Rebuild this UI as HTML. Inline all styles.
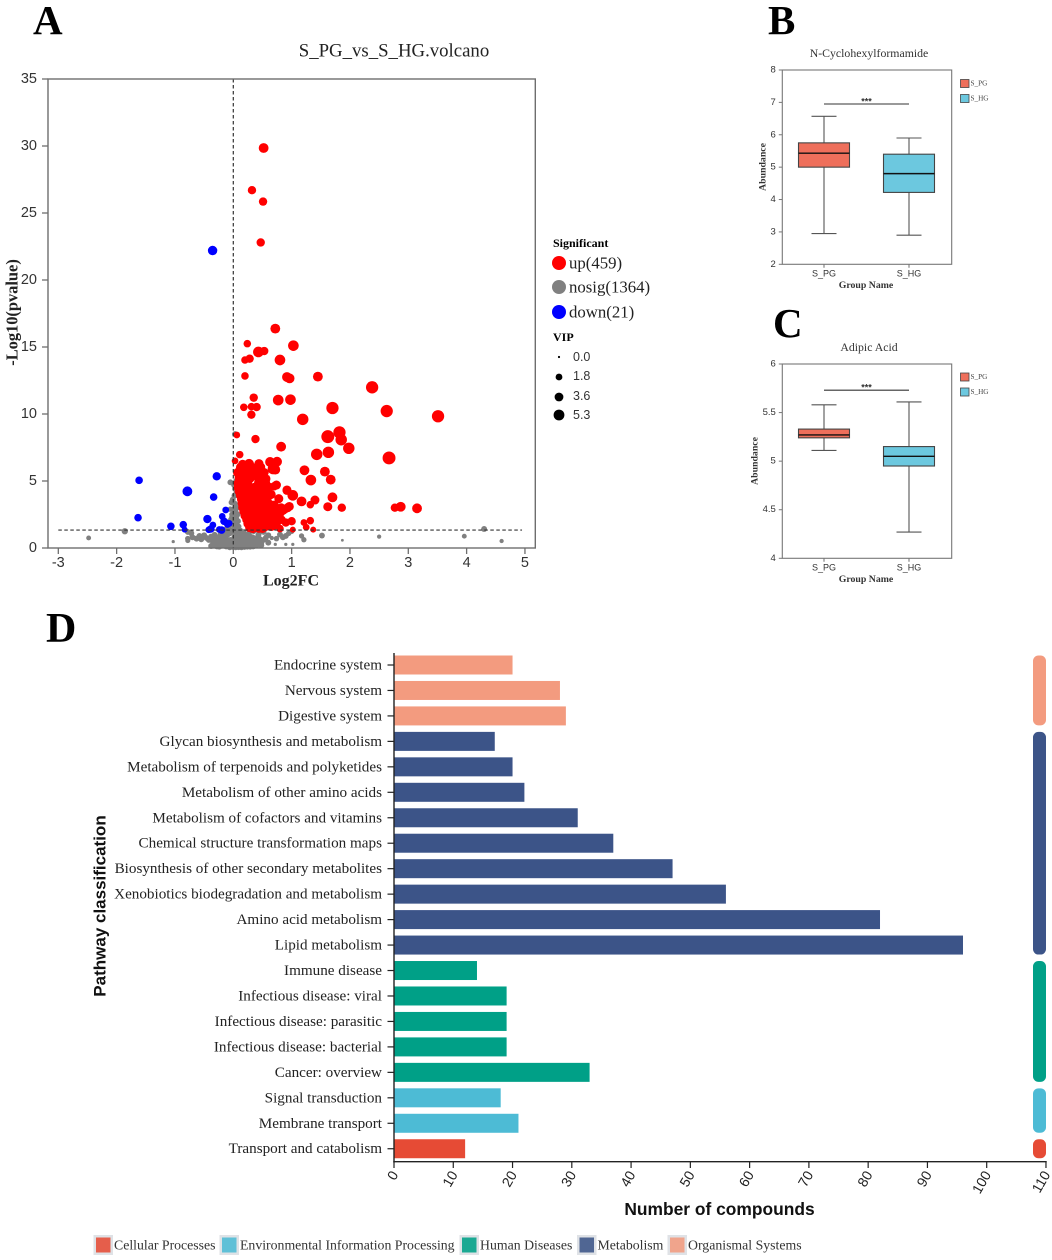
<!DOCTYPE html>
<html lang="en">
<head>
<meta charset="utf-8">
<title>Metabolomics figure</title>
<style>
html,body{margin:0;padding:0;background:#fff}
svg{display:block}
.serif{font-family:"Liberation Serif",serif}
.sans{font-family:"Liberation Sans",sans-serif}
text{dominant-baseline:central}
</style>
</head>
<body>
<svg id="fig" xmlns="http://www.w3.org/2000/svg" width="1052" height="1260" viewBox="0 0 1052 1260">
  <rect width="1052" height="1260" fill="#fff"/>
  <text class="serif" x="33" y="20" font-size="41" font-weight="bold">A</text>
  <text class="serif" x="768" y="20" font-size="41" font-weight="bold">B</text>
  <text class="serif" x="773" y="323" font-size="41" font-weight="bold">C</text>
  <text class="serif" x="46" y="629" font-size="42" font-weight="bold">D</text>

  <text class="serif" x="394" y="51" font-size="18.8" text-anchor="middle" fill="#222">S_PG_vs_S_HG.volcano</text>
  <text class="serif" x="291" y="581" font-size="16" font-weight="bold" text-anchor="middle" fill="#222">Log2FC</text>
  <text class="serif" transform="translate(12 312.5) rotate(-90)" font-size="16.4" font-weight="bold" text-anchor="middle" fill="#222">-Log10(pvalue)</text>

  <g>
    <text class="serif" x="553" y="243" font-size="12" font-weight="bold">Significant</text>
    <circle cx="559" cy="263" r="7" fill="#f00"/>
    <text class="serif" x="569" y="263" font-size="16.8" fill="#222">up(459)</text>
    <circle cx="559" cy="287" r="7" fill="#808080"/>
    <text class="serif" x="569" y="287" font-size="16.8" fill="#222">nosig(1364)</text>
    <circle cx="559" cy="312" r="7" fill="#00f"/>
    <text class="serif" x="569" y="312" font-size="16.8" fill="#222">down(21)</text>
    <text class="serif" x="553" y="337" font-size="12" font-weight="bold">VIP</text>
    <circle cx="559" cy="357" r="1.1" fill="#000"/>
    <text class="sans" x="573" y="357" font-size="12.5" fill="#333">0.0</text>
    <circle cx="559" cy="377" r="3.4" fill="#000"/>
    <text class="sans" x="573" y="376" font-size="12.5" fill="#333">1.8</text>
    <circle cx="559" cy="397" r="4.4" fill="#000"/>
    <text class="sans" x="573" y="396" font-size="12.5" fill="#333">3.6</text>
    <circle cx="559" cy="415" r="5.4" fill="#000"/>
    <text class="sans" x="573" y="415" font-size="12.5" fill="#333">5.3</text>
  </g>

  <text class="sans" x="719.5" y="1209" font-size="17.4" font-weight="bold" text-anchor="middle" fill="#111">Number of compounds</text>
  <text class="sans" transform="translate(100 906) rotate(-90)" font-size="17" font-weight="bold" text-anchor="middle" fill="#111">Pathway classification</text>

  <g id="volcano"></g>
  <g id="boxB"></g>
  <g id="boxC"></g>
  <g id="bars"></g>
</svg>
<script>
/* ---------- Volcano data ---------- */
const volcanoXTicks = [-3,-2,-1,0,1,2,3,4,5];
const volcanoYTicks = [0,5,10,15,20,25,30,35];
const pThreshold = 1.34;

const greyLog2FC = [-2.48,-1.86,-1.03,4.3,4.6,3.96,2.5,1.87,1.52,1.17,1.21,1.02,.9,.72,.74,.66,-.05,.05,.03,-.03,-.05,
 -.78,-.72,-.78,-.78,-.7,-.63,-.58,-.55,-.5,-.46,-.42,-.38,-.35,-.3,-.32,-.26,-.25,-.22,-.2,-.18,-.15,-.14,-.12,-.1,-.08,-.06,-.05,
 -.04,-.02,.01,.03,.05,.02,-.01,.03,.06,.01,.04,.07,.02,.05,.08,.0,.03,.06,.09,.12,.02,.05,.08,.11,.14,.03,.07,.1,.13,.16,.19,
 -.03,.02,.06,.1,.14,.18,.22,.25,.0,.05,.09,.13,.17,.21,.25,.29,.33,-.04,.02,.07,.12,.16,.21,.26,.3,.35,.39,.43,-.06,-.01,.04,.09,.14,.19,.24,.29,.34,.38,.43,.48,.52,.56,
 .1,.18,.27,.35,.44,.52,.6,.8,.85,.9,.95,1.0,.6,.55,
 -.38,-.33,-.28,-.24,-.2,-.16,-.12,-.08,-.34,-.29,-.25,-.21,-.17,-.13,-.09,-.05,-.22,-.18,-.14,-.1,-.06,-.03,-.12,-.08,-.05,-.02,.12,.16,.2,.24,.28,.32,.36,.4,.44,.48,.16,.22,.28,.34,.4,.46,.08,.12,.16];
const greyLogP = [.75,1.25,.48,1.42,.52,.88,.85,.58,.93,.9,.62,.27,.27,.27,.7,.75,4.9,5.0,8.5,3.4,2.9,
 1.2,1.1,.7,.55,.8,.7,.9,.65,.95,.75,.6,.85,.4,.65,1,.3,.8,.5,.15,1.1,.4,.8,.1,.6,1.2,1.7,.3,
 2.1,2.5,4.7,4.4,4.1,3.9,3.6,3.3,3.0,2.9,2.7,2.5,2.4,2.2,2.0,2.1,1.9,1.7,1.6,1.3,1.5,1.3,1.1,1.0,.9,1.1,.95,.8,.7,.9,.75,
 1.2,.8,.6,.55,.5,.65,.95,.7,.4,.35,.3,.25,.35,.4,.45,.85,.8,.15,.15,.1,.2,.15,.2,.25,.3,.55,.7,.95,.05,.08,.05,.06,.05,.08,.1,.1,.12,.2,.3,.4,.6,.8,
 1.15,1.2,1.1,1.25,1.1,1.2,.95,1.0,.8,.9,1.1,1.25,.4,.7,
 .15,.2,.12,.1,.3,.2,.3,.2,.55,.5,.6,.65,.6,.55,.5,.6,1.0,.95,1.05,1.0,1.1,1.3,1.4,1.6,1.9,2.3,.2,.25,.15,.2,.2,.15,.25,.2,.3,.2,.9,.6,.6,.55,.6,.65,1.4,1.25,1.15];
const greyVip = [1.4,2.1,.6,1.9,1.1,1.4,1.1,.4,1.9,1.6,1.6,.6,.6,.6,1.7,1.1,1.9,1.9,1.9,1.9,1.7,
 1.9,1.9,1.7,1.5,1.9,1.9,1.9,1.9,1.9,1.9,1.9,1.9,1.7,1.9,1.7,1.7,1.9,1.9,1.5,1.7,1.9,1.9,1.7,1.9,1.7,1.7,1.9,
 1.9,1.9,1.7,1.7,1.7,1.9,1.9,1.9,1.9,1.9,1.9,1.9,1.9,1.9,1.9,1.9,1.9,1.9,1.9,1.9,1.9,1.9,1.9,1.9,1.9,1.9,1.9,1.9,1.9,1.9,1.9,
 1.9,1.9,1.9,1.9,1.9,1.9,1.9,1.9,1.9,1.9,1.9,1.9,1.9,1.9,1.9,1.9,1.9,1.9,1.9,1.9,1.9,1.9,1.9,1.9,1.9,1.9,1.9,1.9,1.9,1.9,1.9,1.9,1.9,1.9,1.9,1.9,1.9,1.9,1.9,1.9,
 1.7,1.7,1.7,1.7,1.7,1.7,1.7,1.9,1.9,1.9,1.9,1.9,1.7,1.7,
 1.9,1.9,1.9,1.9,1.9,1.9,1.9,1.9,1.9,1.9,1.9,1.9,1.9,1.9,1.9,1.9,1.9,1.9,1.9,1.9,1.9,1.9,1.9,1.9,1.9,1.9,1.9,1.9,1.9,1.9,1.9,1.9,1.9,1.9,1.9,1.9,1.9,1.9,1.9,1.9,1.9,1.9,1.9,1.9,1.9];

const upLog2FC = [.52,.32,.51,.47,.72,.24,1.03,.53,.43,.28,.2,.8,.2,.92,.965,1.45,2.38,.35,.77,.98,.18,.31,.4,1.7,2.63,.31,1.19,3.51,1.82,1.62,1.85,.06,.38,.82,1.98,1.43,1.63,.11,2.67,.03,.63,.75,.68,.72,1.22,1.57,1.33,1.67,.7,.92,1.02,1.7,1.17,1.4,1.32,.78,.61,1.62,1.86,2.77,2.87,3.15,.96,.85,.8,.73,.9,1.0,1.21,1.32,1.25,1.37,1.02,.8,
 .28,.33,.38,.44,.5,.55,.25,.31,.36,.41,.47,.52,.58,.23,.29,.34,.4,.45,.51,.56,.62,.2,.27,.32,.38,.43,.49,.55,.6,.18,.24,.3,.36,.42,.47,.53,.59,.66,.16,.22,.28,.34,.39,.45,.5,.57,.64,.15,.21,.26,.32,.38,.43,.49,.55,.62,.14,.2,.25,.31,.37,.42,.48,.53,.12,.18,.24,.3,.35,.41,.47,.52,.1,.16,.22,.28,.34,.39,.45,.5,.56,.09,.14,.2,.26,.31,.37,.43,.49,.08,.13,.19,.25,.44,.5,.55,.1,.16,.22,.28,.56,.43,.5,.08,.14,.2,.27,.34,.41,.48,.53,.13,.19,.26,.33,.4,.47,.16,.27,.44,
 .74,.92,.85,.68,.83,.74,.65,.62,.7,.72,.75,.78,.7,.65,.82,.88,.93,.6,.63,.58,.56,.58,.62,.66,.69];
const upLogP = [29.85,26.7,25.85,22.8,16.37,15.25,15.1,14.7,14.63,14.13,14.03,14.03,12.84,12.76,12.66,12.79,11.99,11.22,11.04,11.07,10.5,10.55,10.52,10.45,10.22,9.95,9.6,9.83,8.63,8.31,8.08,8.43,8.13,7.56,7.44,6.99,7.14,6.97,6.72,6.5,6.42,6.44,5.9,5.85,5.8,5.7,5.07,5.1,4.6,4.3,3.93,3.78,3.48,3.58,3.23,3.68,3.86,3.08,3.01,3.01,3.08,2.96,3.1,2.8,2.6,2.1,1.9,2.0,1.9,2.04,1.55,1.37,1.37,1.45,
 1.52,1.48,1.55,1.5,1.46,1.56,1.82,1.78,1.85,1.8,1.76,1.84,1.79,2.12,2.08,2.15,2.1,2.06,2.13,2.09,2.14,2.42,2.38,2.45,2.4,2.36,2.44,2.39,2.43,2.72,2.68,2.75,2.7,2.66,2.73,2.69,2.74,2.71,3.02,2.98,3.05,3,2.96,3.04,2.99,3.03,2.97,3.32,3.28,3.35,3.3,3.26,3.33,3.29,3.34,3.28,3.62,3.58,3.65,3.6,3.56,3.64,3.59,3.63,3.92,3.88,3.95,3.9,3.86,3.93,3.89,3.94,4.22,4.18,4.25,4.2,4.16,4.24,4.19,4.23,4.2,4.52,4.48,4.55,4.5,4.46,4.54,4.49,4.53,4.82,4.78,4.85,4.8,4.86,4.79,4.84,5.22,5.18,5.25,5.2,5.16,5.24,5.19,5.62,5.58,5.65,5.6,5.56,5.64,5.59,5.63,6.02,5.98,6.05,6,5.96,6.04,6.25,6.28,6.3,
 4.7,4.33,2.85,2.6,2.1,1.85,4.0,4.55,3.2,2.8,2.4,2.3,1.7,1.6,3.0,2.9,3.0,3.3,2.9,2.2,2.6,1.9,2.5,2.2,2.9];
const upVip = [3.8,3.1,3.1,3.1,3.8,2.7,4.2,3.1,4.2,3.1,2.7,4.2,2.7,3.8,3.8,3.8,5.0,3.1,4.2,4.2,2.7,2.7,3.1,5.0,5.0,3.1,4.6,5.0,5.0,5.3,4.6,2.3,3.1,3.8,4.6,4.6,4.6,2.7,5.3,2.3,3.8,3.8,4.2,3.8,3.8,3.8,4.2,3.8,3.1,3.4,4.2,3.8,3.8,3.4,2.7,3.4,3.1,3.4,3.1,3.1,3.8,3.8,3.4,3.4,3.4,3.1,3.1,3.1,2.3,2.7,2.3,1.9,1.9,2.7,
 3.4,3.8,3.4,3.8,3.4,3.1,3.4,3.8,3.4,3.8,3.4,3.8,3.1,3.4,3.8,3.4,3.8,3.4,3.8,3.4,3.1,3.4,3.8,3.4,3.8,3.4,3.8,3.4,3.8,3.4,3.8,3.4,3.8,3.4,3.8,3.4,3.8,3.4,3.4,3.8,3.4,3.8,3.4,3.8,3.4,3.8,3.4,3.4,3.8,3.4,3.8,3.4,3.8,3.4,3.8,3.4,3.4,3.8,3.4,3.8,3.4,3.8,3.4,3.8,3.4,3.8,3.4,3.8,3.4,3.8,3.4,3.8,3.4,3.8,3.4,3.8,3.4,3.8,3.4,3.8,3.4,3.8,3.4,3.8,3.4,3.8,3.4,3.8,3.1,3.4,3.8,3.4,3.4,3.8,3.4,3.8,3.4,3.8,3.4,3.8,3.4,3.8,3.4,3.8,3.4,3.8,3.4,3.8,3.4,3.8,3.4,3.8,3.4,3.8,3.4,3.8,3.4,
 3.4,3.8,3.4,3.4,3.4,3.4,3.4,3.1,3.4,3.4,3.1,3.4,3.1,3.4,3.4,3.4,3.4,3.4,3.4,3.4,3.4,3.4,3.4,3.4,3.4];

const downLog2FC = [-.355,-1.615,-.284,-.787,-.337,-.13,-1.633,-.444,-.19,-.16,-.07,-.35,-.858,-1.07,-.385,-.2,-.834,-.13,-.42,-.1,-.24];
const downLogP = [22.2,5.05,5.35,4.23,3.8,2.84,2.26,2.16,2.36,2.0,1.84,1.72,1.74,1.62,1.42,1.34,1.37,1.92,1.36,1.75,1.38];
const downVip = [3.6,2.7,3.1,3.8,2.7,2.3,2.7,3.1,2.3,2.7,2.3,2.3,2.7,2.7,2.7,2.7,1.9,2.3,2.3,2.3,2.3];

/* ---------- Box plot data ---------- */
const boxGroups = ["S_PG","S_HG"];
const boxBTicks = [2,3,4,5,6,7,8];
const boxBMax = [6.57,5.9];
const boxBQ3 = [5.75,5.4];
const boxBMedian = [5.43,4.8];
const boxBQ1 = [5.0,4.22];
const boxBMin = [2.95,2.9];
const boxBSig = 6.95;
const boxCTicks = [4,4.5,5,5.5,6];
const boxCMax = [5.58,5.61];
const boxCQ3 = [5.33,5.15];
const boxCMedian = [5.27,5.05];
const boxCQ1 = [5.24,4.95];
const boxCMin = [5.11,4.27];
const boxCSig = 5.73;

/* ---------- Pathway bar data ---------- */
const pathwayNames = ["Endocrine system","Nervous system","Digestive system","Glycan biosynthesis and metabolism","Metabolism of terpenoids and polyketides","Metabolism of other amino acids","Metabolism of cofactors and vitamins","Chemical structure transformation maps","Biosynthesis of other secondary metabolites","Xenobiotics biodegradation and metabolism","Amino acid metabolism","Lipid metabolism","Immune disease","Infectious disease: viral","Infectious disease: parasitic","Infectious disease: bacterial","Cancer: overview","Signal transduction","Membrane transport","Transport and catabolism"];
const pathwayCounts = [20,28,29,17,20,22,31,37,47,56,82,96,14,19,19,19,33,18,21,12];
const pathwayClasses = ["Organismal Systems","Organismal Systems","Organismal Systems","Metabolism","Metabolism","Metabolism","Metabolism","Metabolism","Metabolism","Metabolism","Metabolism","Metabolism","Human Diseases","Human Diseases","Human Diseases","Human Diseases","Human Diseases","Environmental Information Processing","Environmental Information Processing","Cellular Processes"];
const countTicks = [0,10,20,30,40,50,60,70,80,90,100,110];
const classNames = ["Cellular Processes","Environmental Information Processing","Human Diseases","Metabolism","Organismal Systems"];
const classColors = ["#E64B35","#4DBBD5","#00A087","#3C5488","#F39B7F"];

/* ---------- Helpers ---------- */
const NS = "http://www.w3.org/2000/svg";
function make(parent, tag, props, txt){
  const n = document.createElementNS(NS, tag);
  for (const k in props) n.setAttribute(k, props[k]);
  if (txt !== undefined) n.textContent = txt;
  parent.appendChild(n);
  return n;
}

/* ---------- Volcano ---------- */
(function(){
  const g = document.getElementById("volcano");
  const vx = v => 233.3 + v * 58.33;
  const vy = v => 548 - v * 13.4;
  const vr = v => 1 + v * 1.03;

  function dots(xs, ys, vs, color, name){
    xs.forEach((x, i) => {
      const el = make(g, "circle", {cx: vx(x), cy: vy(ys[i]), r: vr(vs[i]), fill: color});
      
      
    });
  }
  dots(greyLog2FC, greyLogP, greyVip, "#808080", "nosig-point");
  dots(upLog2FC, upLogP, upVip, "#ff0000", "up-point");
  dots(downLog2FC, downLogP, downVip, "#0000ff", "down-point");

  const hl = make(g, "line", {x1: vx(-3), x2: vx(4.95), y1: vy(pThreshold), y2: vy(pThreshold), stroke: "#333", "stroke-width": 1.2, "stroke-dasharray": "3.5 2.5"});
  
  
  const vl = make(g, "line", {x1: vx(0), x2: vx(0), y1: vy(35), y2: vy(0), stroke: "#333", "stroke-width": 1.2, "stroke-dasharray": "3.5 2.5"});
  
  
  const frame = make(g, "rect", {x: 48, y: vy(35), width: 487.3, height: vy(0) - vy(35), fill: "none", stroke: "#6e6e6e", "stroke-width": 1.4});
  
  

  volcanoYTicks.forEach(t => {
    const tk = make(g, "line", {x1: 42, x2: 48, y1: vy(t), y2: vy(t), stroke: "#6e6e6e", "stroke-width": 1.3});
    
    
    const lb = make(g, "text", {x: 37, y: vy(t), "font-size": 14.5, "text-anchor": "end", fill: "#333", class: "sans"}, String(t));
    
    
  });
  volcanoXTicks.forEach(t => {
    const tk = make(g, "line", {x1: vx(t), x2: vx(t), y1: 548, y2: 554, stroke: "#6e6e6e", "stroke-width": 1.3});
    
    
    const lb = make(g, "text", {x: vx(t), y: 563, "font-size": 14.5, "text-anchor": "middle", fill: "#333", class: "sans"}, String(t));
    
    
  });
})();

/* ---------- Box plots ---------- */
function drawBox(id, o){
  const g = document.getElementById(id);
  const L = 782.3, R = 951.7;
  const yMin = o.ticks[0], yMax = o.ticks[o.ticks.length - 1];
  const sy = v => o.bottom - (v - yMin) / (yMax - yMin) * (o.bottom - o.top);
  const sx = i => 824 + i * 85;
  const colors = ["#EE6F5B", "#6CC8DF"];
  const ink = "#444";

  boxGroups.forEach((name, i) => {
    const x = sx(i);
    const wh = make(g, "line", {x1: x, x2: x, y1: sy(o.max[i]), y2: sy(o.min[i]), stroke: "#555", "stroke-width": 1.1});
    
    
    [o.max[i], o.min[i]].forEach(v => {
      const cap = make(g, "line", {x1: x - 12.5, x2: x + 12.5, y1: sy(v), y2: sy(v), stroke: "#555", "stroke-width": 1.1});
      
      
    });
    const box = make(g, "rect", {x: x - 25.5, width: 51, y: sy(o.q3[i]), height: sy(o.q1[i]) - sy(o.q3[i]), fill: colors[i], stroke: ink, "stroke-width": 1.1});
    
    
    const med = make(g, "line", {x1: x - 25.5, x2: x + 25.5, y1: sy(o.med[i]), y2: sy(o.med[i]), stroke: "#111", "stroke-width": 1.4});
    
    
    const tk = make(g, "line", {x1: x, x2: x, y1: o.bottom, y2: o.bottom + 3.5, stroke: "#6e6e6e", "stroke-width": 1});
    
    
    const lb = make(g, "text", {x: x, y: o.bottom + 9, "font-size": 9, "text-anchor": "middle", fill: "#333", class: "sans"}, name);
    
    

    const sw = make(g, "rect", {x: 960.5, y: o.legendY + i * 15, width: 8.5, height: 8, fill: colors[i], stroke: ink, "stroke-width": .8});
    
    
    const st = make(g, "text", {x: 970.5, y: o.legendY + 4 + i * 15, "font-size": 7.2, fill: "#444", class: "serif"}, name);
    
    
  });

  const frame = make(g, "rect", {x: L, y: o.top, width: R - L, height: o.bottom - o.top, fill: "none", stroke: "#777", "stroke-width": 1.1});
  
  
  o.ticks.forEach(t => {
    const tk = make(g, "line", {x1: L - 3.5, x2: L, y1: sy(t), y2: sy(t), stroke: "#777", "stroke-width": 1});
    
    
    const lb = make(g, "text", {x: L - 6.5, y: sy(t), "font-size": 9.5, "text-anchor": "end", fill: "#333", class: "sans"}, String(t));
    
    
  });
  const sig = make(g, "line", {x1: sx(0), x2: sx(1), y1: sy(o.sig), y2: sy(o.sig), stroke: "#333", "stroke-width": 1.1});
  
  
  const star = make(g, "text", {x: 866.5, y: sy(o.sig) - 2.5, "font-size": 9, "font-weight": "bold", "text-anchor": "middle", fill: "#333", class: "sans"}, "***");
  
  
  const ti = make(g, "text", {x: o.titleX, y: o.top - 17, "font-size": 11.8, "text-anchor": "middle", fill: "#333", class: "serif"}, o.title);
  
  
  const xt = make(g, "text", {x: 866, y: o.bottom + 21, "font-size": 9.8, "font-weight": "bold", "text-anchor": "middle", fill: "#333", class: "serif"}, "Group Name");
  
  
  const yt = make(g, "text", {transform: "translate(" + o.yTitleX + " " + o.yTitleY + ") rotate(-90)", "font-size": 9.8, "font-weight": "bold", "text-anchor": "middle", fill: "#333", class: "serif"}, "Abundance");
  
  
}
drawBox("boxB", {top: 70, bottom: 264.3, ticks: boxBTicks, max: boxBMax, q3: boxBQ3, med: boxBMedian, q1: boxBQ1, min: boxBMin, sig: boxBSig, title: "N-Cyclohexylformamide", titleX: 869, yTitleX: 763, yTitleY: 167, legendY: 79.5});
drawBox("boxC", {top: 364, bottom: 558.3, ticks: boxCTicks, max: boxCMax, q3: boxCQ3, med: boxCMedian, q1: boxCQ1, min: boxCMin, sig: boxCSig, title: "Adipic Acid", titleX: 869, yTitleX: 755, yTitleY: 461, legendY: 373});

/* ---------- Pathway bars ---------- */
(function(){
  const g = document.getElementById("bars");
  const sx = v => 394 + v * 5.927;
  const sy = i => 665 + i * 25.46;
  const h = 19;
  const colorOf = c => classColors[classNames.indexOf(c)];

  pathwayNames.forEach((name, i) => {
    const bar = make(g, "rect", {x: sx(0), y: sy(i) - h / 2, width: sx(pathwayCounts[i]) - sx(0), height: h, fill: colorOf(pathwayClasses[i])});
    
    
    const tk = make(g, "line", {x1: 387.5, x2: 394, y1: sy(i), y2: sy(i), stroke: "#222", "stroke-width": 1.2});
    
    
    const lb = make(g, "text", {x: 382, y: sy(i), "font-size": 15.15, "text-anchor": "end", fill: "#222", class: "serif"}, name);
    
    
  });

  classNames.forEach(cls => {
    const first = pathwayClasses.indexOf(cls), last = pathwayClasses.lastIndexOf(cls);
    const strip = make(g, "rect", {x: 1033, width: 13, y: sy(first) - h / 2, height: sy(last) - sy(first) + h, rx: 5.5, ry: 5.5, fill: colorOf(cls)});
    
    
  });

  const ya = make(g, "line", {x1: 394, x2: 394, y1: 653, y2: 1162.5, stroke: "#222", "stroke-width": 1.4});
  
  
  const xa = make(g, "line", {x1: 393.3, x2: 1046.7, y1: 1161.7, y2: 1161.7, stroke: "#222", "stroke-width": 1.4});
  
  

  countTicks.forEach(t => {
    const x = sx(t);
    const tk = make(g, "line", {x1: x, x2: x, y1: 1161.7, y2: 1168, stroke: "#222", "stroke-width": 1.2});
    
    
    const lb = make(g, "text", {transform: "translate(" + (x + 0.5) + " 1172) rotate(-60)", "font-size": 14, "text-anchor": "end", fill: "#222", class: "sans"}, String(t));
    
    
  });

  const legendSwatchX = [93.5, 219.5, 459.5, 577, 667.5];
  classNames.forEach((cls, i) => {
    const halo = make(g, "rect", {x: legendSwatchX[i], y: 1235, width: 19.5, height: 20, fill: "#dfe2e6"});
    
    
    const sw = make(g, "rect", {x: legendSwatchX[i] + 2.5, y: 1237.5, width: 14.5, height: 15, fill: colorOf(cls), opacity: .88});
    
    
    const tx = make(g, "text", {x: legendSwatchX[i] + 20.5, y: 1245, "font-size": 13.8, fill: "#333", class: "serif"}, cls);
    
    
  });
})();
</script>
</body>
</html>
